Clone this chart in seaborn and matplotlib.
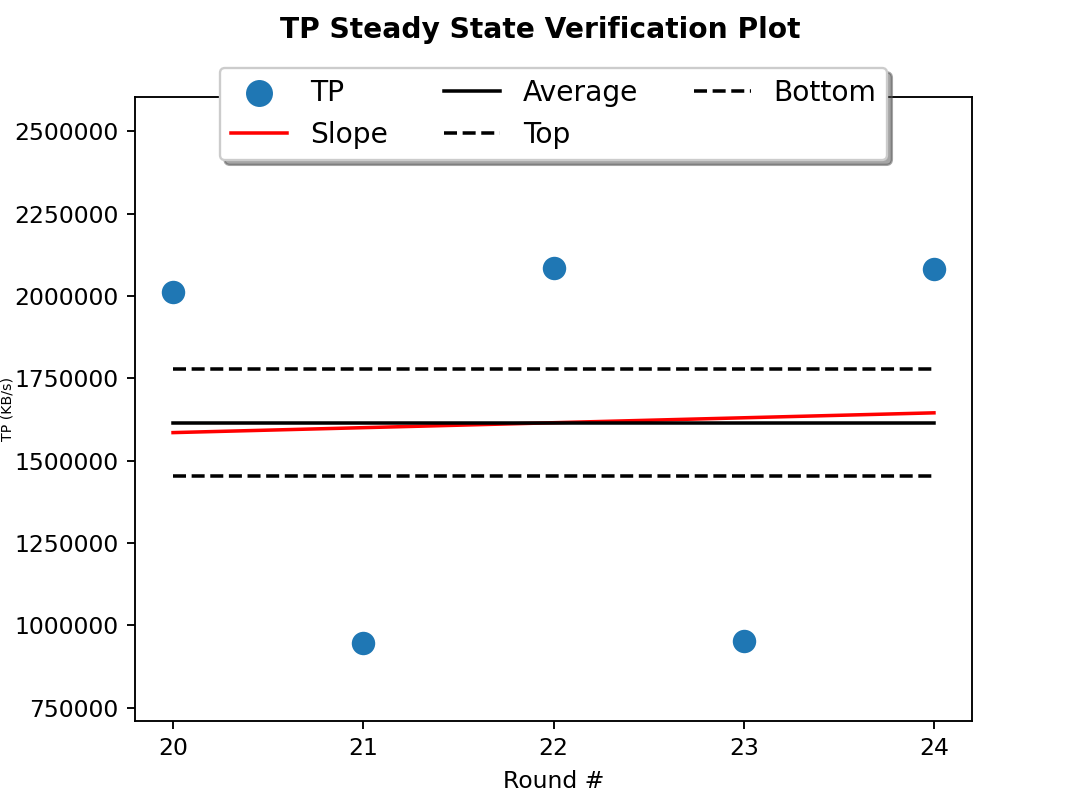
import matplotlib
matplotlib.use("Agg")
import matplotlib.pyplot as plt
from matplotlib.ticker import MultipleLocator
import seaborn as sns
import pandas as pd

# ---- data ----
rounds = [20, 21, 22, 23, 24]
tp_values = [2011000, 945000, 2084000, 954000, 2081000]
line_x = [20, 24]
slope_y = [1585000, 1645000]
average_y = [1615000, 1615000]
top_y = [1777000, 1777000]
bottom_y = [1453000, 1453000]

title = "TP Steady State Verification Plot"
xlabel = "Round #"
ylabel = "TP (KB/s)"

plt.rcParams['font.family'] = ['DejaVu Sans']
fig, ax = plt.subplots(figsize=(6.4, 4.8), dpi=168.75)

df_tp = pd.DataFrame({"Round": rounds, "TP": tp_values})
sns.scatterplot(data=df_tp, x="Round", y="TP", ax=ax, s=100, color="#1f77b4",
                linewidth=0, label="TP", zorder=3)
sns.lineplot(x=line_x, y=slope_y, ax=ax, color="red", linewidth=1.5, label="Slope")
sns.lineplot(x=line_x, y=average_y, ax=ax, color="black", linewidth=1.5, label="Average")
sns.lineplot(x=line_x, y=top_y, ax=ax, color="black", linewidth=1.5, linestyle="--", label="Top")
sns.lineplot(x=line_x, y=bottom_y, ax=ax, color="black", linewidth=1.5, linestyle="--", label="Bottom")

ax.set_xlim(19.8, 24.2)
ax.set_ylim(710000, 2603000)
ax.xaxis.set_major_locator(MultipleLocator(1))
ax.yaxis.set_major_locator(MultipleLocator(250000))
ax.ticklabel_format(axis="y", style="plain", useOffset=False)
ax.tick_params(labelsize=10)

ax.set_xlabel(xlabel, fontsize=10)
ax.set_ylabel(ylabel, fontsize=6)
ax.yaxis.set_label_coords(-0.1435, 0.5)

fig.suptitle(title, fontweight="bold", fontsize=12)

leg = ax.legend(loc="upper center", bbox_to_anchor=(0.5, 1.07), ncol=3,
                fancybox=True, shadow=True, fontsize=12, markerscale=1.15)

fig.subplots_adjust(left=0.125, right=0.9, top=0.88, bottom=0.11)
fig.savefig("out.png", dpi=168.75)
